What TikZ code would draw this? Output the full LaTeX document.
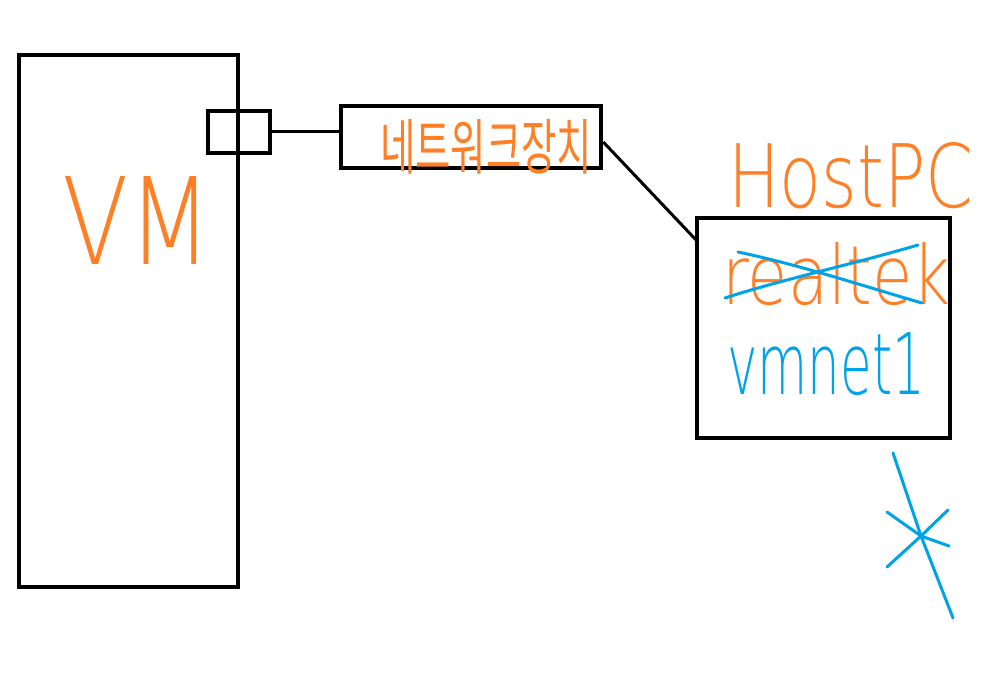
\documentclass[tikz,border=0pt]{standalone}
\usepackage{fontspec}
\setmainfont{DejaVu Sans ExtraLight}
\newfontfamily\krfont{Noto Sans CJK KR}
\usetikzlibrary{calc}
\definecolor{paintorange}{RGB}{255,127,39}
\definecolor{paintblue}{RGB}{0,162,232}
\begin{document}
\begin{tikzpicture}[x=1pt,y=-1pt,
  box/.style={draw=black,line width=4.5pt,minimum width=#1,inner sep=0pt},
  link/.style={draw=black,line width=3pt},
  otext/.style={text=paintorange,inner sep=0pt,anchor=base west},
  btext/.style={text=paintblue,inner sep=0pt,anchor=base west},
  bstroke/.style={draw=paintblue,line width=3pt,line cap=round,line join=round}]
\useasboundingbox[fill=white] (0,0) rectangle (993,700);
% boxes
\node[box=219pt,minimum height=532pt] (vm) at (128.5,321) {};
\node[box=62pt,minimum height=42pt] (port) at (239,132) {};
\node[box=260pt,minimum height=62pt] (netdev) at (471,137) {};
\node[box=253pt,minimum height=220pt] (host) at (823.5,328) {};
% connectors
\draw[link] (port.east) -- (port.east -| netdev.west);
\coordinate (hostin) at ($(host.north west)+(3,26)$);
\draw[link] ($(netdev.east)+(0,5)$) -- (hostin);
% texts
\node[otext] (vmlabel) at (62,265) {\resizebox{150pt}{88pt}{VM}};
\node[otext] (netlabel) at (380,170) {\resizebox{212pt}{50pt}{\krfont 네트워크장치}};
\node[otext] (hostlabel) at (728,208) {\resizebox{245pt}{65pt}{HostPC}};
\node[otext] (realtek) at (722,305) {\resizebox{228pt}{62pt}{realtek}};
\node[btext] (vmnet) at (727,395) {\resizebox{198pt}{62pt}{vmnet1}};
% strike-through of realtek
\draw[bstroke] (725,298) .. controls (780,280) and (850,265) .. (918,245);
\draw[bstroke] (738,252) .. controls (800,265) and (860,285) .. (922,303);
% blue asterisk
\coordinate (ast) at (921,536);
\draw[bstroke] (893,453) -- (ast) -- (953,618);
\draw[bstroke] (887,512) -- (ast) -- (949,546);
\draw[bstroke] (887,567) -- (ast) -- (948,510);
\end{tikzpicture}
\end{document}
